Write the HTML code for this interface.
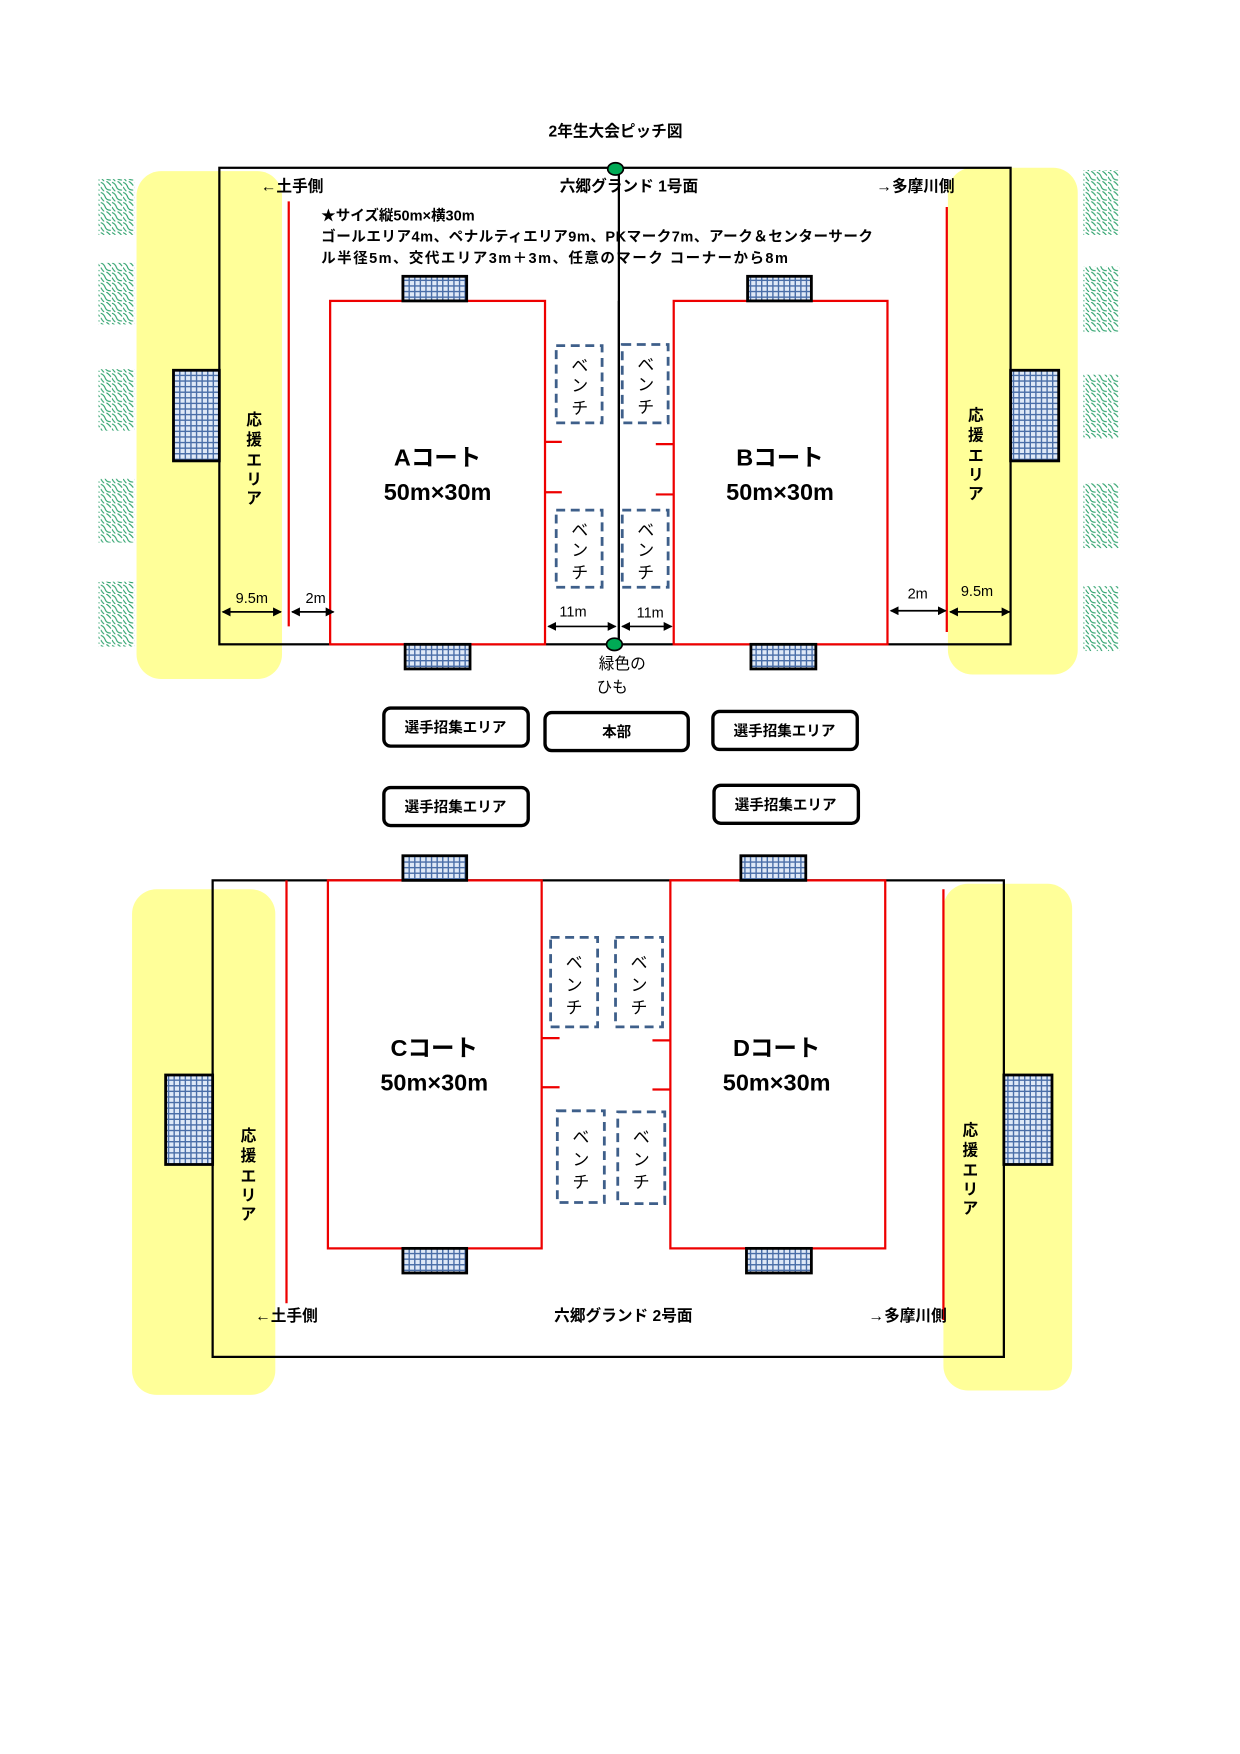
<!DOCTYPE html>
<html><head><meta charset="utf-8"><style>
html,body{margin:0;padding:0;background:#fff;}
svg{display:block;}
text{font-family:"Liberation Sans","Noto Sans CJK JP",sans-serif;}
.b{font-weight:bold;}
</style></head><body>
<svg width="1240" height="1754" viewBox="0 0 1108 1568" preserveAspectRatio="none" xmlns="http://www.w3.org/2000/svg">
<defs>
<pattern id="net" width="5" height="5" patternUnits="userSpaceOnUse">
<rect width="5" height="5" fill="#dfe9f7"/>
<path d="M0 0.6H5M0.6 0V5" stroke="#4a6ea8" stroke-width="1.3"/>
</pattern>
<pattern id="hatch" width="10" height="9" patternUnits="userSpaceOnUse">
<path d="M0 1 Q3 2 4 5 Q5 8 9 8 M5 0 Q8 2 9 4 M0 5 Q1 7 3 9" stroke="#2aa06a" stroke-width="1" fill="none"/>
</pattern>
<marker id="ah" markerWidth="8" markerHeight="8" refX="7" refY="4" orient="auto-start-reverse" markerUnits="userSpaceOnUse"><path d="M0 0L8 4L0 8z" fill="#000"/></marker>
</defs>

<text x="550" y="122" font-size="14" class="b" text-anchor="middle">2年生大会ピッチ図</text>

<g fill="url(#hatch)">
<rect x="88" y="160" width="32" height="50"/><rect x="88" y="235" width="32" height="55"/>
<rect x="88" y="330" width="32" height="55"/><rect x="88" y="428" width="32" height="57"/>
<rect x="88" y="520" width="32" height="58"/>
<rect x="968" y="152" width="32" height="58"/><rect x="968" y="238" width="32" height="59"/>
<rect x="968" y="335" width="32" height="57"/><rect x="968" y="432" width="32" height="58"/>
<rect x="968" y="524" width="32" height="58"/>
</g>

<rect x="122" y="153" width="130" height="454" rx="22" fill="#ffff99"/>
<rect x="847" y="150" width="116" height="453" rx="22" fill="#ffff99"/>
<rect x="196" y="150" width="707" height="426" fill="none" stroke="#000" stroke-width="2"/>
<line x1="553" y1="150" x2="553" y2="576" stroke="#000" stroke-width="2"/>
<line x1="258" y1="180" x2="258" y2="560" stroke="#e00" stroke-width="2"/>
<line x1="846" y1="185" x2="846" y2="565" stroke="#e00" stroke-width="2"/>
<rect x="295" y="269" width="192" height="307" fill="#fff" stroke="#e00" stroke-width="2"/>
<rect x="602" y="269" width="191" height="307" fill="#fff" stroke="#e00" stroke-width="2"/>
<line x1="553" y1="269" x2="553" y2="576" stroke="#000" stroke-width="2"/>
<g fill="url(#net)" stroke="#000" stroke-width="2.5">
<rect x="360" y="247" width="57" height="22"/><rect x="362" y="576" width="58" height="22"/>
<rect x="668" y="247" width="57" height="22"/><rect x="671" y="576" width="58" height="22"/>
<rect x="155" y="331" width="41" height="81"/><rect x="903" y="331" width="43" height="81"/>
</g>
<g stroke="#e00" stroke-width="2">
<line x1="487" y1="395" x2="502" y2="395"/><line x1="487" y1="440" x2="502" y2="440"/>
<line x1="586" y1="397" x2="602" y2="397"/><line x1="586" y1="442" x2="602" y2="442"/>
</g>
<g fill="none" stroke="#3e5f8a" stroke-width="2.5" stroke-dasharray="8,5">
<rect x="497" y="309" width="41" height="69"/><rect x="556" y="308" width="41" height="70"/>
<rect x="497" y="456" width="41" height="69"/><rect x="556" y="456" width="41" height="69"/>
</g>
<g font-size="15" text-anchor="middle">
<text x="518" y="332">ベ</text><text x="518" y="350">ン</text><text x="518" y="370">チ</text>
<text x="577" y="331">ベ</text><text x="577" y="349">ン</text><text x="577" y="369">チ</text>
<text x="518" y="479">ベ</text><text x="518" y="497">ン</text><text x="518" y="517">チ</text>
<text x="577" y="479">ベ</text><text x="577" y="497">ン</text><text x="577" y="517">チ</text>
</g>
<ellipse cx="550" cy="151" rx="7" ry="5.5" fill="#0a5" stroke="#000" stroke-width="1.5"/>
<ellipse cx="549" cy="576" rx="7" ry="5.5" fill="#0a5" stroke="#000" stroke-width="1.5"/>

<g font-size="14" class="b">
<text x="233" y="171">←土手側</text>
<text x="562" y="171" text-anchor="middle">六郷グランド  1号面</text>
<text x="783" y="171">→多摩川側</text>
</g>
<g font-size="13" class="b">
<text x="287" y="197">★サイズ縦50m×横30m</text>
<text x="287" y="216" textLength="493">ゴールエリア4m、ペナルティエリア9m、PKマーク7m、アーク＆センターサーク</text>
<text x="287" y="235" textLength="417">ル半径5m、交代エリア3m＋3m、任意のマーク  コーナーから8m</text>
</g>
<g font-size="14" class="b" text-anchor="middle">
<text x="227" y="380">応</text><text x="227" y="398">援</text><text x="227" y="416">エ</text><text x="227" y="433">リ</text><text x="227" y="450">ア</text>
<text x="872" y="376">応</text><text x="872" y="394">援</text><text x="872" y="412">エ</text><text x="872" y="429">リ</text><text x="872" y="446">ア</text>
</g>
<g stroke="#000" stroke-width="1.5" marker-start="url(#ah)" marker-end="url(#ah)">
<line x1="199" y1="547" x2="251" y2="547"/>
<line x1="261" y1="547" x2="298" y2="547"/>
<line x1="490" y1="560" x2="550" y2="560"/>
<line x1="556" y1="560" x2="600" y2="560"/>
<line x1="796" y1="546" x2="845" y2="546"/>
<line x1="849" y1="547" x2="902" y2="547"/>
</g>
<g font-size="13" text-anchor="middle">
<text x="225" y="539">9.5m</text><text x="282" y="539">2m</text>
<text x="512" y="551">11m</text><text x="581" y="552">11m</text>
<text x="820" y="535">2m</text><text x="873" y="533">9.5m</text>
<text x="556" y="598" font-size="14">緑色の</text><text x="547" y="619" font-size="14">ひも</text>
</g>

<g fill="#fff" stroke="#000" stroke-width="3">
<rect x="343" y="633" width="129" height="34" rx="6"/>
<rect x="487" y="637" width="128" height="34" rx="6"/>
<rect x="637" y="636" width="129" height="34" rx="6"/>
<rect x="343" y="704" width="129" height="34" rx="6"/>
<rect x="638" y="702" width="129" height="34" rx="6"/>
</g>
<g font-size="13" class="b" text-anchor="middle">
<text x="407" y="655">選手招集エリア</text>
<text x="551" y="659">本部</text>
<text x="701" y="658">選手招集エリア</text>
<text x="407" y="726">選手招集エリア</text>
<text x="702" y="724">選手招集エリア</text>
</g>

<!-- BOTTOM FIELD -->
<rect x="118" y="795" width="128" height="452" rx="22" fill="#ffff99"/>
<rect x="843" y="790" width="115" height="453" rx="22" fill="#ffff99"/>
<rect x="190" y="787" width="707" height="426" fill="none" stroke="#000" stroke-width="2"/>
<line x1="256" y1="787" x2="256" y2="1165" stroke="#e00" stroke-width="2"/>
<line x1="843" y1="795" x2="843" y2="1180" stroke="#e00" stroke-width="2"/>
<rect x="293" y="787" width="191" height="329" fill="#fff" stroke="#e00" stroke-width="2"/>
<rect x="599" y="787" width="192" height="329" fill="#fff" stroke="#e00" stroke-width="2"/>
<g fill="url(#net)" stroke="#000" stroke-width="2.5">
<rect x="360" y="765" width="57" height="22"/><rect x="662" y="765" width="58" height="22"/>
<rect x="360" y="1116" width="57" height="22"/><rect x="667" y="1116" width="58" height="22"/>
<rect x="148" y="961" width="42" height="80"/><rect x="897" y="961" width="43" height="80"/>
</g>
<g stroke="#e00" stroke-width="2">
<line x1="484" y1="928" x2="500" y2="928"/><line x1="484" y1="972" x2="500" y2="972"/>
<line x1="583" y1="930" x2="599" y2="930"/><line x1="583" y1="974" x2="599" y2="974"/>
</g>
<g fill="none" stroke="#3e5f8a" stroke-width="2.5" stroke-dasharray="8,5">
<rect x="492" y="838" width="42" height="80"/><rect x="550" y="838" width="42" height="80"/>
<rect x="498" y="993" width="42" height="82"/><rect x="552" y="994" width="42" height="82"/>
</g>
<g font-size="15" text-anchor="middle">
<text x="513" y="866">ベ</text><text x="513" y="886">ン</text><text x="513" y="906">チ</text>
<text x="571" y="866">ベ</text><text x="571" y="886">ン</text><text x="571" y="906">チ</text>
<text x="519" y="1022">ベ</text><text x="519" y="1042">ン</text><text x="519" y="1062">チ</text>
<text x="573" y="1022">ベ</text><text x="573" y="1042">ン</text><text x="573" y="1062">チ</text>
</g>
<g font-size="14" class="b" text-anchor="middle">
<text x="222" y="1020">応</text><text x="222" y="1038">援</text><text x="222" y="1056">エ</text><text x="222" y="1073">リ</text><text x="222" y="1090">ア</text>
<text x="867" y="1015">応</text><text x="867" y="1033">援</text><text x="867" y="1051">エ</text><text x="867" y="1068">リ</text><text x="867" y="1085">ア</text>
</g>
<g font-size="21" class="b" text-anchor="middle">
<text x="391" y="416">Aコート</text><text x="391" y="447">50m×30m</text>
<text x="697" y="416">Bコート</text><text x="697" y="447">50m×30m</text>
<text x="388" y="944">Cコート</text><text x="388" y="975">50m×30m</text>
<text x="694" y="944">Dコート</text><text x="694" y="975">50m×30m</text>
</g>
<g font-size="14" class="b">
<text x="228" y="1181">←土手側</text>
<text x="557" y="1181" text-anchor="middle">六郷グランド  2号面</text>
<text x="776" y="1181">→多摩川側</text>
</g>
</svg>
</body></html>
